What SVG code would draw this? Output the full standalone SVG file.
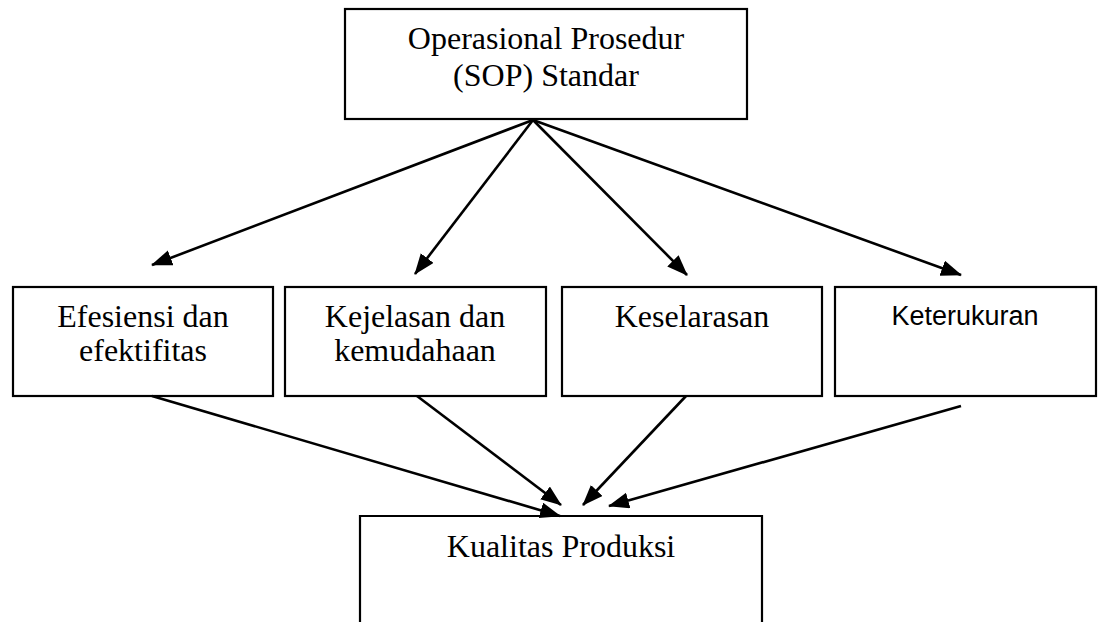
<svg xmlns="http://www.w3.org/2000/svg" width="1099" height="622" viewBox="0 0 1099 622">
<style>
.box{fill:#fff;stroke:#000;stroke-width:2.2}
.t{font-family:"Liberation Serif","Times New Roman",serif;font-size:32px;fill:#000;text-anchor:middle}
.s{font-family:"Liberation Sans",Arial,sans-serif;font-size:27px;fill:#000;text-anchor:middle}
.c{stroke:#000;stroke-width:2.6;fill:none;marker-end:url(#ah)}
</style>
<defs>
<marker id="ah" markerUnits="userSpaceOnUse" markerWidth="24" markerHeight="18" refX="20" refY="8" orient="auto">
<path d="M0,0 L21,8 L0,16 z" fill="#000"/>
</marker>
</defs>
<rect width="1099" height="622" fill="#fff"/>
<g id="sop">
<rect class="box" x="345" y="9" width="402" height="110"/>
<text class="t" x="546" y="49">Operasional Prosedur</text>
<text class="t" x="546" y="86">(SOP) Standar</text>
</g>
<g id="efesiensi">
<rect class="box" x="13" y="287" width="260" height="109"/>
<text class="t" x="143" y="327">Efesiensi dan</text>
<text class="t" x="143" y="361">efektifitas</text>
</g>
<g id="kejelasan">
<rect class="box" x="285" y="287" width="261" height="109"/>
<text class="t" x="415" y="327">Kejelasan dan</text>
<text class="t" x="415" y="361">kemudahaan</text>
</g>
<g id="keselarasan">
<rect class="box" x="562" y="287" width="260" height="109"/>
<text class="t" x="692" y="327">Keselarasan</text>
</g>
<g id="keterukuran">
<rect class="box" x="835" y="287" width="261" height="109"/>
<text class="s" x="965" y="325">Keterukuran</text>
</g>
<g id="kualitas">
<path class="box" d="M360,623 L360,516 L762,516 L762,623"/>
<text class="t" x="561" y="557">Kualitas Produksi</text>
</g>
<g id="connectors">
<line class="c" x1="533" y1="120" x2="152" y2="265"/>
<line class="c" x1="533" y1="120" x2="415" y2="274"/>
<line class="c" x1="533" y1="120" x2="687" y2="275"/>
<line class="c" x1="533" y1="120" x2="961" y2="275"/>
<line class="c" x1="152" y1="396" x2="560" y2="516"/>
<line class="c" x1="417" y1="396" x2="561" y2="505"/>
<line class="c" x1="686" y1="396" x2="583" y2="505"/>
<line class="c" x1="961" y1="406" x2="609" y2="506"/>
</g>
</svg>
